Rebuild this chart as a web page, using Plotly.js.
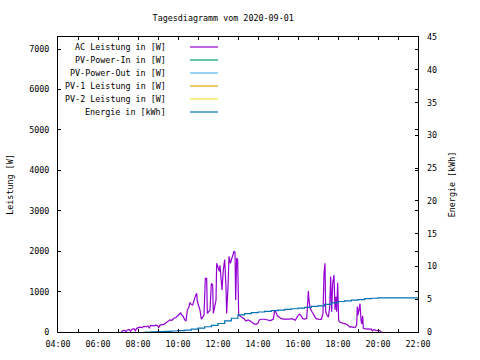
<!DOCTYPE html>
<html>
<head>
<meta charset="utf-8">
<script src="https://cdn.plot.ly/plotly-3.0.1.min.js"></script>
<style>html,body{margin:0;padding:0;background:#fff}#chart{width:480px;height:360px}</style>
</head>
<body>
<div id="chart"></div>
<script>
// ---- data ----
const day = "2020-09-01";
const seriesNames = ["AC Leistung in [W]", "PV-Power-In in [W]", "PV-Power-Out in [W]", "PV-1 Leistung in [W]", "PV-2 Leistung in [W]", "Energie in [kWh]"];
const seriesColors = ["#9400d3", "#009e73", "#56b4e9", "#e69f00", "#f0e442", "#0072b2"];

const acTimes = ["07:10","07:14","07:20","07:24","07:28","07:34","07:38","07:42","07:48","07:52","07:56","08:00","08:06","08:12","08:18","08:24","08:30","08:34","08:38","08:46","08:52","08:58","09:02","09:06","09:12","09:18","09:24","09:30","09:36","09:42","09:48","09:54","10:00","10:04","10:08","10:12","10:16","10:20","10:24","10:28","10:32","10:36","10:40","10:44","10:48","10:52","10:56","10:58","11:02","11:06","11:10","11:14","11:18","11:22","11:26","11:28","11:32","11:36","11:40","11:44","11:46","11:50","11:54","11:56","12:00","12:04","12:06","12:09","12:12","12:16","12:20","12:24","12:26","12:30","12:33","12:37","12:41","12:45","12:48","12:51","12:53","12:56","12:59","13:02","13:06","13:12","13:18","13:24","13:30","13:36","13:42","13:48","13:54","14:00","14:04","14:10","14:20","14:28","14:36","14:42","14:46","14:50","14:54","14:58","15:04","15:10","15:18","15:26","15:34","15:42","15:48","15:52","15:58","16:04","16:08","16:14","16:20","16:26","16:28","16:31","16:33","16:36","16:42","16:48","16:54","17:00","17:10","17:15","17:18","17:21","17:23","17:27","17:31","17:35","17:38","17:41","17:44","17:48","17:51","17:54","17:56","17:59","18:02","18:06","18:12","18:20","18:26","18:32","18:36","18:40","18:46","18:52","18:56","18:58","19:00","19:03","19:06","19:09","19:11","19:14","19:16","19:22","19:32","19:40","19:43","19:48","19:54","20:00","20:06","20:10"];
const acValues = [0,30,40,10,50,60,20,70,80,30,90,100,120,110,140,130,150,100,160,150,170,160,110,170,180,190,230,260,300,290,340,360,400,440,470,420,380,300,280,540,600,730,680,670,800,880,960,760,650,540,320,360,420,1330,1330,460,500,540,1200,1170,460,600,790,1700,1620,1500,1650,1270,1040,1540,1790,1100,460,1120,1870,1700,1830,1910,1990,1970,790,1830,1790,420,400,380,330,270,300,280,240,200,190,220,300,315,315,300,280,300,320,530,490,400,360,330,320,315,320,330,300,290,380,440,420,330,320,340,560,1015,790,600,500,430,330,320,315,460,1455,1700,500,420,365,600,1370,500,1200,1410,545,870,500,1220,290,240,230,200,190,150,115,130,115,120,170,630,420,545,700,300,200,400,90,75,75,70,30,60,40,30,30,0];

const energyTimes = ["08:20","08:40","09:00","09:20","09:40","10:00","10:20","10:40","11:00","11:20","11:40","12:00","12:20","12:40","13:00","13:20","13:40","14:00","14:20","14:40","15:00","15:20","15:40","16:00","16:20","16:40","17:00","17:20","17:40","18:00","18:20","18:40","19:00","19:20","19:40","20:00","20:20","22:00"];
const energyValues = [0,0.02,0.05,0.1,0.15,0.2,0.3,0.45,0.6,0.8,1.0,1.3,1.7,2.1,2.6,2.8,2.95,3.05,3.15,3.25,3.35,3.45,3.55,3.65,3.75,3.9,4.0,4.2,4.45,4.65,4.75,4.85,4.95,5.1,5.15,5.2,5.2,5.2];

const xTickTimes = ["04:00","06:00","08:00","10:00","12:00","14:00","16:00","18:00","20:00","22:00"];

// ---- build ----
const ts = t => day + " " + t;
const FONT = "DejaVu Sans Mono";
const fs = 8.4;

const traces = [
  {x: acTimes.map(ts), y: acValues, type: "scatter", mode: "lines", name: seriesNames[0],
   line: {color: seriesColors[0], width: 1.2}, showlegend: false, yaxis: "y"},
  {x: [], y: [], type: "scatter", mode: "lines", name: seriesNames[1], line: {color: seriesColors[1]}, showlegend: false},
  {x: [], y: [], type: "scatter", mode: "lines", name: seriesNames[2], line: {color: seriesColors[2]}, showlegend: false},
  {x: [], y: [], type: "scatter", mode: "lines", name: seriesNames[3], line: {color: seriesColors[3]}, showlegend: false},
  {x: [], y: [], type: "scatter", mode: "lines", name: seriesNames[4], line: {color: seriesColors[4]}, showlegend: false},
  {x: energyTimes.map(ts), y: energyValues, type: "scatter", mode: "lines", name: seriesNames[5],
   line: {color: seriesColors[5], width: 1.2, shape: "hv"}, showlegend: false, yaxis: "y2"}
];

// plot area in pixels
const L = 58, R = 418, T = 37, B = 332;
const px2x = p => (p - L) / (R - L);
const px2y = p => (B - p) / (B - T);

const legendRows = [47, 60, 73, 86, 99, 112];
const annotations = seriesNames.map((n, i) => ({
  text: n, xref: "paper", yref: "paper", x: px2x(168), y: px2y(legendRows[i]),
  xanchor: "right", yanchor: "middle", showarrow: false,
  font: {family: FONT, size: fs, color: "#000"}
}));
const shapes = seriesColors.map((c, i) => ({
  type: "line", xref: "paper", yref: "paper",
  x0: px2x(190), x1: px2x(218), y0: px2y(legendRows[i]), y1: px2y(legendRows[i]),
  line: {color: c, width: 1.2}
}));

const layout = {
  width: 480, height: 360,
  margin: {l: L, r: 480 - R, t: T, b: 360 - B, pad: 0},
  paper_bgcolor: "#fff", plot_bgcolor: "#fff",
  font: {family: FONT, size: fs, color: "#000"},
  title: {text: "Tagesdiagramm vom 2020-09-01", x: 0.465, xanchor: "center", y: 0.95, yanchor: "middle",
          font: {family: FONT, size: fs, color: "#000"}},
  xaxis: {
    type: "date", range: [ts("04:00"), ts("22:00")],
    tickvals: xTickTimes.map(ts), ticktext: xTickTimes,
    ticks: "inside", ticklen: 3, tickcolor: "#000", tickwidth: 1,
    minor: {dtick: 3600000, tick0: ts("04:00"), ticks: "inside", ticklen: 3, tickcolor: "#000", showgrid: false},
    showline: true, linecolor: "#000", linewidth: 1, mirror: "ticks",
    showgrid: false, zeroline: false, ticklabelstandoff: 4,
    tickfont: {family: FONT, size: fs}
  },
  yaxis: {
    range: [0, 7300], dtick: 1000, tick0: 0,
    ticks: "inside", ticklen: 3, tickcolor: "#000", tickwidth: 1,
    showline: true, linecolor: "#000", linewidth: 1, mirror: "ticks",
    showgrid: false, zeroline: false, ticklabelstandoff: 6,
    tickfont: {family: FONT, size: fs},
    title: {text: "Leistung [W]", font: {family: FONT, size: fs}, standoff: 14}
  },
  yaxis2: {
    overlaying: "y", side: "right", range: [0, 45], dtick: 5, tick0: 0,
    ticks: "inside", ticklen: 3, tickcolor: "#000", tickwidth: 1,
    showline: false, showgrid: false, zeroline: false, ticklabelstandoff: 8,
    tickfont: {family: FONT, size: fs},
    title: {text: "Energie [kWh]", font: {family: FONT, size: fs}, standoff: 13}
  },
  showlegend: false,
  annotations: annotations,
  shapes: shapes
};

Plotly.newPlot("chart", traces, layout, {displayModeBar: false, staticPlot: true});
</script>
</body>
</html>
